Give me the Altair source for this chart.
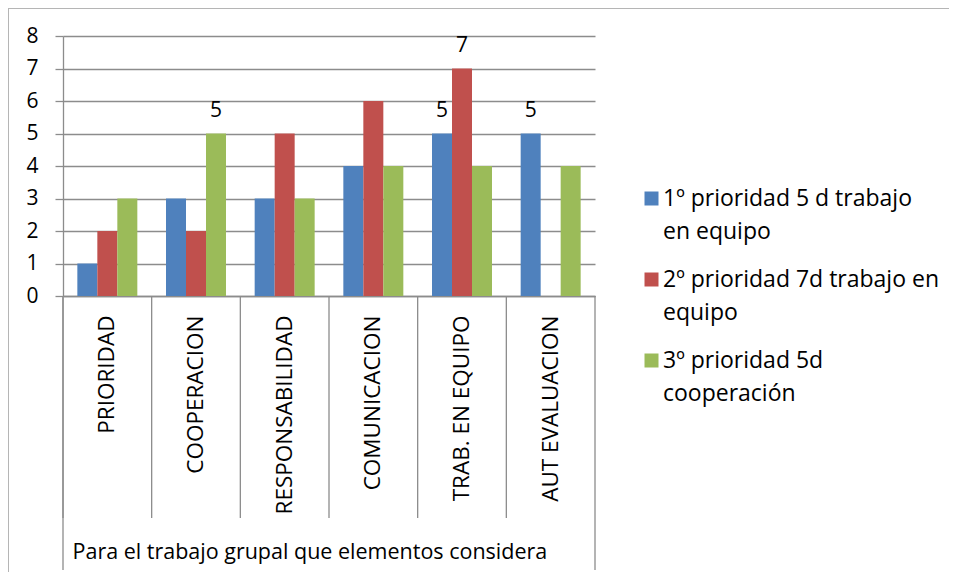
import altair as alt
import pandas as pd

categories = ["PRIORIDAD", "COOPERACION", "RESPONSABILIDAD", "COMUNICACION", "TRAB. EN EQUIPO", "AUT EVALUACION"]
series_names = ["1º prioridad 5 d trabajo\nen equipo", "2º prioridad 7d trabajo en\nequipo", "3º prioridad 5d\ncooperación"]
s1 = [1, 3, 3, 4, 5, 5]
s2 = [2, 2, 5, 6, 7, None]
s3 = [3, 5, 3, 4, 4, 4]
lab1 = [None, None, None, None, "5", "5"]
lab2 = [None, None, None, None, "7", None]
lab3 = [None, "5", None, None, None, None]
y_ticks = [0, 1, 2, 3, 4, 5, 6, 7, 8]
colors = ["#4F81BD", "#C0504D", "#9BBB59"]
x_title = "Para el trabajo grupal que elementos considera"

rows = []
for name, vals, labs in zip(series_names, [s1, s2, s3], [lab1, lab2, lab3]):
    for c, v, l in zip(categories, vals, labs):
        rows.append({"cat": c, "serie": name, "valor": v, "etiqueta": l})
df = pd.DataFrame(rows)

W, H = 532, 260
FONT = "Open Sans"
GRAY = "#8c8c8c"

x_axis = alt.Axis(title=x_title, labelAngle=270, ticks=False, labelPadding=19,
                  labelFontSize=22.5, labelFont=FONT, labelColor="black",
                  domainColor=GRAY, domainWidth=1.3, labelOverlap=False,
                  titleFont=FONT, titleFontSize=21.5, titleFontWeight="normal",
                  titleColor="black", titleX=9, titleY=262, titleAlign="left",
                  titleBaseline="alphabetic", titleAngle=0, labelLimit=400)
y_axis = alt.Axis(title=None, values=y_ticks, tickCount=20, format="d", tickSize=8, tickColor=GRAY, tickWidth=1.3,
                  domainColor=GRAY, domainWidth=1.3, gridColor=GRAY, gridWidth=1.3,
                  labelOverlap=False,
                  labelFontSize=21, labelFont=FONT, labelColor="black", labelPadding=17)
y_scale = alt.Scale(domain=[0, 8], nice=False)

x_enc = alt.X("cat:N", sort=categories, scale=alt.Scale(paddingInner=0, paddingOuter=0), axis=x_axis)
xoff = alt.XOffset("serie:N", sort=series_names, scale=alt.Scale(paddingInner=0, paddingOuter=0.717))
y_enc = alt.Y("valor:Q", scale=y_scale, axis=y_axis)

bars = alt.Chart(df).mark_bar().encode(
    x=x_enc, xOffset=xoff, y=y_enc,
    color=alt.Color("serie:N", sort=series_names,
                    scale=alt.Scale(domain=series_names, range=colors),
                    legend=alt.Legend(title=None, orient="none", legendX=577, legendY=151,
                                      symbolType="square", symbolSize=196, symbolStrokeWidth=0,
                                      labelFont=FONT, labelFontSize=23, labelColor="black",
                                      labelOffset=0, labelLimit=400, rowPadding=24,
                                      labelExpr="split(datum.label, '\\n')"))
)

texts = alt.Chart(df).mark_text(baseline="alphabetic", dy=-17, fontSize=21, font=FONT, color="black").encode(
    x=x_enc, xOffset=xoff, y=y_enc,
    text="etiqueta:N"
).transform_filter("datum.etiqueta != null")

cat_df = pd.DataFrame({"cat": categories})
dividers = alt.Chart(cat_df).mark_rule(color=GRAY, strokeWidth=1.3).encode(
    x=alt.X("cat:N", sort=categories, bandPosition=0, scale=alt.Scale(paddingInner=0, paddingOuter=0), axis=x_axis),
    y=alt.value(H), y2=alt.value(H + 222)
)
one = alt.Data(values=[{"a": 1}])
outer_l = alt.Chart(one).mark_rule(color=GRAY, strokeWidth=1.3).encode(
    x=alt.value(0), y=alt.value(H), y2=alt.value(H + 274))
outer_r = alt.Chart(one).mark_rule(color=GRAY, strokeWidth=1.3).encode(
    x=alt.value(W), y=alt.value(H), y2=alt.value(H + 274))
frame_l = alt.Chart(one).mark_rule(color="#b5b5b5", strokeWidth=1).encode(
    x=alt.value(-54.5), y=alt.value(-28), y2=alt.value(H + 276))
frame_t = alt.Chart(one).mark_rule(color="#b5b5b5", strokeWidth=1).encode(
    x=alt.value(-55), x2=alt.value(W + 354), y=alt.value(-27.5))

chart = alt.layer(bars, texts, dividers, outer_l, outer_r, frame_l, frame_t).properties(
    width=W, height=H,
    padding={"left": 55, "top": 28, "right": 354, "bottom": 276},
    autosize=alt.AutoSizeParams(type="none"),
    background="white",
).configure(style={"guide-label": {"lineHeight": 33}}).configure_view(stroke="transparent")

chart.save("out.html", embed_options={"renderer": "svg", "actions": False})
